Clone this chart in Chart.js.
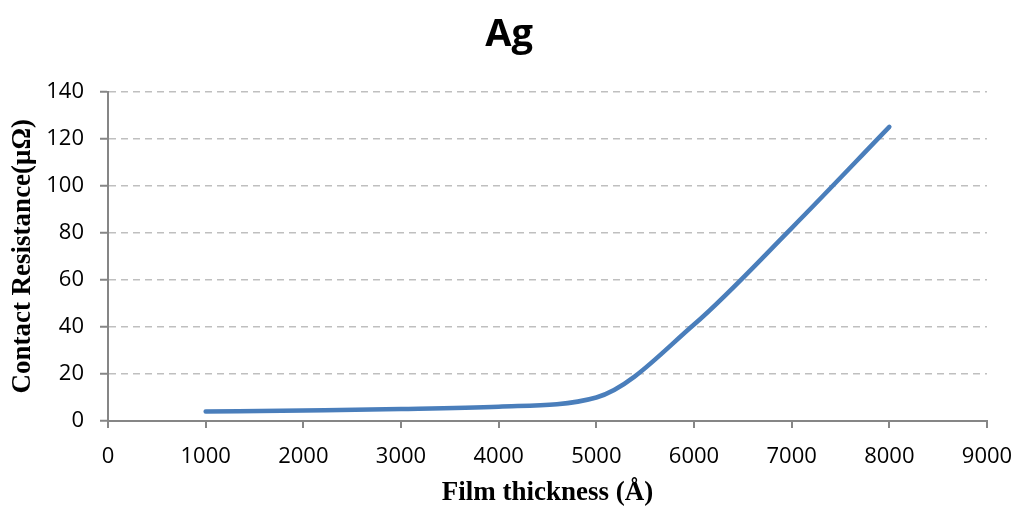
<!DOCTYPE html>
<html>
<head>
<meta charset="utf-8">
<script src="https://cdn.jsdelivr.net/npm/chart.js@4/dist/chart.umd.min.js"></script>
<style>
html,body{margin:0;padding:0;background:#fff;}
#wrap{width:1018px;height:509px;}
</style>
</head>
<body>
<div id="wrap"><canvas id="c" width="1018" height="509"></canvas></div>
<script>
const chartTitle = 'Ag';
const xTitle = 'Film thickness (Å)';
const yTitle = 'Contact Resistance(μΩ)';
const thickness = [1000, 2000, 3000, 4000, 5000, 6000, 7000, 8000];
const resistance = [4, 4.5, 5.1, 6.1, 10, 41, 82, 125];
const xMin = 0, xMax = 9000, xStep = 1000;
const yMin = 0, yMax = 140, yStep = 20;

const points = thickness.map((x, i) => ({x: x, y: resistance[i]}));

new Chart(document.getElementById('c'), {
  type: 'scatter',
  data: {
    datasets: [{
      data: points,
      showLine: true,
      borderColor: '#4A7EBB',
      backgroundColor: '#4A7EBB',
      borderWidth: 4.5,
      borderCapStyle: 'round',
      borderJoinStyle: 'round',
      pointRadius: 0,
      pointHoverRadius: 0,
      cubicInterpolationMode: 'monotone',
      fill: false
    }]
  },
  options: {
    responsive: false,
    animation: false,
    layout: {padding: {left: 0, right: 0, top: 0, bottom: 0}},
    plugins: {
      legend: {display: false},
      tooltip: {enabled: false},
      title: {
        display: true,
        text: chartTitle,
        color: '#000',
        font: {family: 'Open Sans', size: 38, weight: 'bold'},
        padding: {top: 12, bottom: 34}
      }
    },
    scales: {
      x: {
        type: 'linear',
        min: xMin, max: xMax,
        afterFit: s => { s.height = 88; s.paddingRight = 31; },
        ticks: {
          stepSize: xStep,
          color: '#000',
          font: {family: 'Open Sans', size: 22},
          padding: 16,
          maxRotation: 0,
          autoSkip: false,
          callback: v => String(v)
        },
        grid: {
          display: true,
          drawOnChartArea: false,
          drawTicks: true,
          tickLength: 7,
          tickColor: '#868686',
          lineWidth: 2
        },
        border: {display: true, color: '#868686', width: 2},
        title: {
          display: true,
          text: xTitle,
          color: '#000',
          font: {family: 'Liberation Serif', size: 27, weight: 'bold'},
          padding: {top: 0, bottom: 0}
        }
      },
      y: {
        type: 'linear',
        min: yMin, max: yMax,
        afterFit: s => { s.width = 108; },
        ticks: {
          stepSize: yStep,
          color: '#000',
          font: {family: 'Open Sans', size: 22},
          padding: 16,
          callback: v => String(v)
        },
        grid: {
          display: true,
          drawOnChartArea: true,
          drawTicks: true,
          tickLength: 8,
          color: '#BFBFBF',
          lineWidth: 1.5,
          tickColor: '#868686',
          tickBorderDash: [],
          tickWidth: 2
        },
        border: {display: true, color: '#868686', width: 2, dash: [7, 5]},
        title: {
          display: true,
          text: yTitle,
          color: '#000',
          font: {family: 'Liberation Serif', size: 27, weight: 'bold'},
          padding: {top: 7, bottom: 0}
        }
      }
    }
  }
});
</script>
</body>
</html>
